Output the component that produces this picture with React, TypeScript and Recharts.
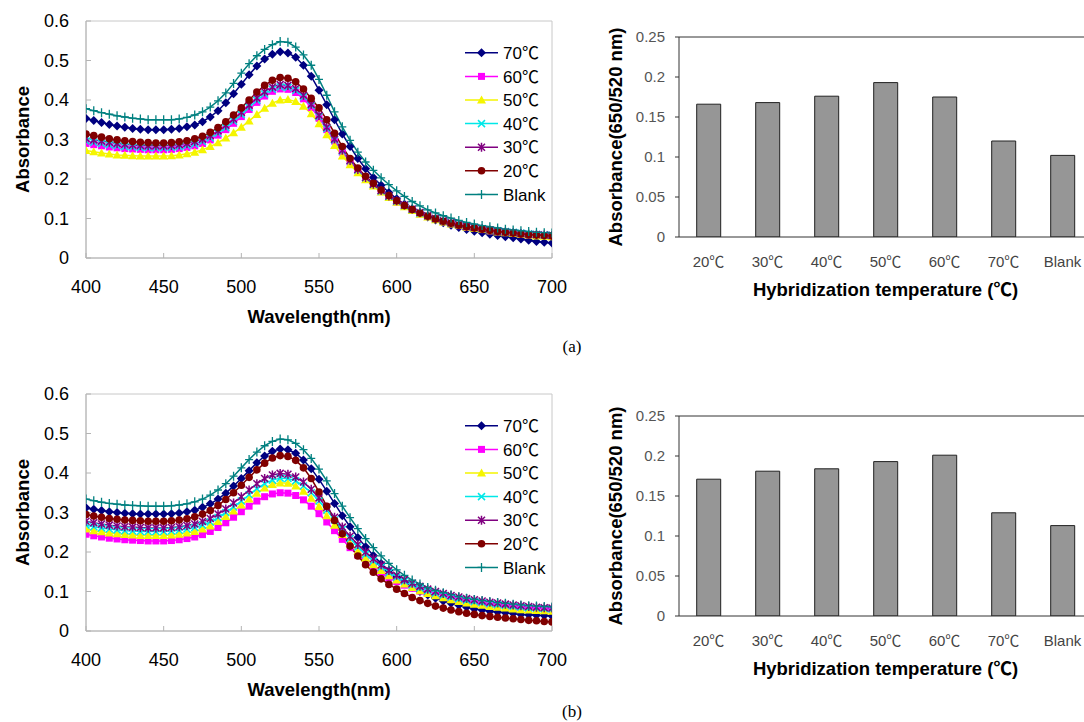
import React from 'react';
import { LineChart, Line, BarChart, Bar, XAxis, YAxis, Legend, ReferenceArea, ReferenceLine } from 'recharts';

// wavelength grid of the spectra (nm)
const wavelengths = [
  400, 405, 410, 415, 420, 425, 430, 435, 440, 445,
  450, 455, 460, 465, 470, 475, 480, 485, 490, 495,
  500, 505, 510, 515, 520, 525, 530, 535, 540, 545,
  550, 555, 560, 565, 570, 575, 580, 585, 590, 595,
  600, 605, 610, 615, 620, 625, 630, 635, 640, 645,
  650, 655, 660, 665, 670, 675, 680, 685, 690, 695,
  700,
];

// (a) spectra
const a70 = [
  .353, .348, .343, .338, .334, .331, .328, .326, .325, .325,
  .325, .326, .328, .332, .337, .345, .357, .373, .393, .416,
  .440, .464, .486, .504, .516, .522, .519, .508, .488, .460,
  .425, .388, .350, .314, .282, .252, .226, .204, .184, .166,
  .150, .136, .124, .113, .104, .096, .089, .083, .077, .072,
  .068, .064, .060, .057, .054, .051, .048, .045, .042, .040,
  .038,
];
const a60 = [
  .290, .287, .284, .281, .279, .277, .276, .275, .274, .274,
  .274, .275, .277, .280, .284, .290, .299, .311, .325, .341,
  .358, .376, .394, .410, .422, .428, .427, .419, .403, .381,
  .354, .325, .296, .268, .243, .221, .201, .184, .168, .154,
  .142, .131, .121, .112, .105, .098, .092, .087, .082, .078,
  .075, .072, .069, .067, .065, .063, .061, .059, .058, .057,
  .056,
];
const a50 = [
  .272, .269, .266, .263, .261, .260, .259, .258, .258, .258,
  .258, .259, .261, .264, .268, .274, .282, .292, .304, .317,
  .331, .347, .363, .379, .392, .400, .401, .396, .384, .365,
  .340, .312, .285, .258, .236, .216, .198, .182, .167, .153,
  .141, .130, .120, .111, .104, .097, .091, .086, .082, .078,
  .075, .072, .069, .066, .064, .062, .060, .058, .056, .055,
  .054,
];
const a40 = [
  .296, .293, .290, .287, .284, .282, .281, .280, .279, .279,
  .279, .280, .282, .285, .289, .295, .304, .316, .330, .346,
  .363, .381, .399, .415, .427, .433, .432, .424, .408, .386,
  .358, .328, .299, .271, .246, .223, .203, .186, .170, .156,
  .144, .133, .123, .114, .107, .100, .094, .089, .084, .080,
  .077, .074, .071, .069, .067, .065, .063, .061, .060, .059,
  .058,
];
const a30 = [
  .303, .299, .296, .293, .290, .288, .286, .285, .284, .284,
  .284, .285, .287, .290, .295, .301, .310, .322, .336, .352,
  .369, .387, .405, .421, .433, .439, .437, .429, .412, .389,
  .361, .331, .301, .273, .247, .224, .204, .187, .171, .157,
  .145, .134, .124, .115, .107, .100, .094, .089, .084, .080,
  .077, .074, .071, .068, .066, .064, .062, .060, .059, .058,
  .057,
];
const a20 = [
  .314, .310, .306, .302, .299, .297, .295, .293, .292, .291,
  .291, .292, .294, .297, .302, .308, .318, .330, .345, .362,
  .380, .400, .420, .437, .450, .457, .455, .446, .428, .404,
  .380, .350, .316, .282, .252, .228, .207, .189, .172, .158,
  .145, .133, .123, .114, .106, .099, .093, .088, .083, .079,
  .076, .073, .070, .067, .065, .063, .061, .059, .058, .057,
  .056,
];
const aBlank = [
  .378, .373, .368, .364, .360, .357, .354, .352, .350, .350,
  .350, .350, .352, .356, .362, .370, .382, .398, .418, .442,
  .468, .492, .512, .528, .540, .548, .546, .534, .514, .488,
  .452, .412, .370, .332, .298, .268, .243, .222, .203, .186,
  .170, .156, .143, .132, .122, .114, .107, .101, .095, .090,
  .086, .082, .079, .076, .073, .071, .069, .067, .065, .064,
  .063,
];

// (b) spectra
const b70 = [
  .312, .308, .305, .302, .300, .298, .297, .296, .296, .296,
  .296, .297, .299, .302, .306, .313, .322, .334, .349, .367,
  .386, .406, .426, .443, .455, .461, .459, .450, .433, .411,
  .384, .354, .323, .292, .264, .237, .213, .191, .171, .153,
  .137, .123, .111, .100, .091, .083, .076, .070, .065, .060,
  .056, .053, .050, .048, .046, .044, .042, .041, .040, .039,
  .038,
];
const b60 = [
  .245, .241, .238, .235, .233, .231, .230, .229, .228, .228,
  .228, .229, .231, .234, .238, .244, .252, .262, .274, .288,
  .302, .316, .329, .340, .347, .350, .349, .343, .332, .316,
  .297, .276, .254, .232, .211, .192, .175, .160, .147, .135,
  .125, .116, .108, .101, .095, .090, .085, .081, .077, .074,
  .071, .068, .066, .064, .062, .060, .059, .058, .057, .056,
  .055,
];
const b50 = [
  .258, .254, .251, .248, .246, .244, .243, .242, .242, .242,
  .242, .243, .245, .248, .252, .258, .266, .277, .290, .304,
  .319, .334, .349, .362, .371, .375, .374, .367, .354, .336,
  .315, .292, .268, .244, .222, .202, .184, .168, .153, .140,
  .129, .119, .110, .102, .095, .089, .084, .079, .075, .071,
  .068, .065, .062, .060, .058, .056, .054, .053, .052, .051,
  .050,
];
const b40 = [
  .268, .264, .261, .258, .256, .254, .253, .252, .252, .252,
  .252, .253, .255, .258, .262, .268, .276, .287, .300, .314,
  .329, .345, .360, .373, .382, .387, .386, .380, .367, .350,
  .329, .306, .281, .257, .234, .213, .194, .177, .162, .148,
  .136, .126, .117, .109, .102, .096, .091, .086, .082, .078,
  .075, .072, .069, .067, .065, .063, .061, .059, .058, .057,
  .056,
];
const b30 = [
  .278, .274, .271, .268, .266, .264, .263, .262, .261, .261,
  .261, .262, .264, .267, .271, .277, .285, .296, .309, .324,
  .340, .357, .373, .386, .395, .399, .397, .390, .377, .359,
  .337, .313, .288, .263, .240, .219, .200, .183, .167, .153,
  .141, .130, .121, .113, .106, .100, .095, .090, .086, .082,
  .079, .076, .073, .071, .068, .066, .064, .062, .060, .059,
  .058,
];
const b20 = [
  .295, .291, .288, .285, .283, .281, .280, .279, .278, .278,
  .278, .279, .281, .284, .289, .296, .305, .318, .333, .350,
  .369, .389, .408, .425, .438, .444, .442, .432, .413, .386,
  .352, .316, .280, .246, .215, .190, .168, .149, .132, .118,
  .106, .095, .085, .077, .070, .063, .058, .053, .049, .045,
  .042, .039, .037, .035, .033, .031, .029, .027, .026, .024,
  .023,
];
const bBlank = [
  .334, .330, .326, .323, .321, .319, .318, .317, .316, .316,
  .316, .317, .319, .322, .327, .334, .344, .357, .373, .392,
  .413, .434, .453, .469, .480, .486, .484, .475, .459, .437,
  .410, .380, .348, .316, .287, .259, .234, .211, .190, .171,
  .155, .141, .129, .119, .110, .103, .097, .092, .087, .083,
  .080, .077, .075, .072, .070, .068, .066, .064, .063, .062,
  .061,
];

// bar panels: A650/A520 ratio per hybridization temperature
const tempLabels = ['20℃', '30℃', '40℃', '50℃', '60℃', '70℃', 'Blank'];
const ratioA = [0.166, 0.168, 0.176, 0.193, 0.175, 0.120, 0.102];
const ratioB = [0.171, 0.181, 0.184, 0.193, 0.201, 0.129, 0.113];

const seriesKeys = ['t70', 't60', 't50', 't40', 't30', 't20', 'blank'];
const seriesNames = ['70℃', '60℃', '50℃', '40℃', '30℃', '20℃', 'Blank'];
const seriesColors = ['#000080', '#ff00ff', '#f5f500', '#00e8e8', '#800080', '#800000', '#008080'];
const seriesShapes = ['diamond', 'square', 'triangle', 'cross', 'star', 'circle', 'plus'];

const xTicks = [400, 450, 500, 550, 600, 650, 700];
const yTicks = [0, 0.1, 0.2, 0.3, 0.4, 0.5, 0.6];
const barTicks = [0, 0.05, 0.1, 0.15, 0.2, 0.25];

const FONT = "'Liberation Sans', Arial, 'Noto Sans CJK SC', sans-serif";

function buildRows(series: number[][]) {
  return wavelengths.map((wl, i) => {
    const row: any = { wl };
    seriesKeys.forEach((k, s) => { row[k] = series[s][i]; });
    return row;
  });
}

function buildBars(values: number[]) {
  return tempLabels.map((label, i) => ({ label, ratio: values[i] }));
}

const rowsA = buildRows([a70, a60, a50, a40, a30, a20, aBlank]);
const rowsB = buildRows([b70, b60, b50, b40, b30, b20, bBlank]);
const barsA = buildBars(ratioA);
const barsB = buildBars(ratioB);

function Marker({ shape, cx, cy, color }: any) {
  if (cx == null || cy == null) return null;
  switch (shape) {
    case 'diamond':
      return <polygon points={`${cx},${cy - 4.5} ${cx + 4.5},${cy} ${cx},${cy + 4.5} ${cx - 4.5},${cy}`} fill={color} />;
    case 'square':
      return <rect x={cx - 3.5} y={cy - 3.5} width={7} height={7} fill={color} />;
    case 'triangle':
      return <polygon points={`${cx},${cy - 4.5} ${cx + 4.5},${cy + 3.5} ${cx - 4.5},${cy + 3.5}`} fill={color} />;
    case 'cross':
      return <path d={`M${cx - 3.5},${cy - 3.5}L${cx + 3.5},${cy + 3.5}M${cx + 3.5},${cy - 3.5}L${cx - 3.5},${cy + 3.5}`} stroke={color} strokeWidth={1.5} />;
    case 'star':
      return <path d={`M${cx - 3.5},${cy - 3.5}L${cx + 3.5},${cy + 3.5}M${cx + 3.5},${cy - 3.5}L${cx - 3.5},${cy + 3.5}M${cx},${cy - 4.5}L${cx},${cy + 4.5}`} stroke={color} strokeWidth={1.5} />;
    case 'circle':
      return <circle cx={cx} cy={cy} r={3.8} fill={color} />;
    default:
      return <path d={`M${cx},${cy - 4.5}L${cx},${cy + 4.5}M${cx - 4},${cy}L${cx + 4},${cy}`} stroke={color} strokeWidth={1.3} />;
  }
}

function SpectraLegend() {
  const rowH = 23.6;
  return (
    <svg width={110} height={rowH * seriesNames.length} style={{ display: 'block' }}>
      {seriesNames.map((name, i) => {
        const cy = rowH / 2 + i * rowH;
        return (
          <g key={name}>
            <line x1={3} x2={36} y1={cy} y2={cy} stroke={seriesColors[i]} strokeWidth={1.5} />
            <Marker shape={seriesShapes[i]} cx={19.5} cy={cy} color={seriesColors[i]} />
            <text x={41} y={cy} dy="0.36em" fontSize={17} fill="#000" fontFamily={FONT}>{name}</text>
          </g>
        );
      })}
    </svg>
  );
}

function SpectraPanel({ rows, top }: { rows: any[]; top: number }) {
  return (
    <div style={{ position: 'absolute', left: 0, top, width: 580, height: 330 }}>
      <LineChart width={580} height={330} data={rows} margin={{ top: 21, right: 28, bottom: 2, left: 0 }}>
        <ReferenceArea x1={400} x2={700} y1={0} y2={0.6} fill="#fff" fillOpacity={0} stroke="#c8c8c8" />
        <XAxis
          dataKey="wl"
          type="number"
          domain={[400, 700]}
          ticks={xTicks}
          allowDataOverflow
          height={70}
          tickSize={-5}
          tickMargin={27}
          stroke="#b4b4b4"
          tick={{ fill: '#000', fontSize: 18 }}
          label={{ value: 'Wavelength(nm)', position: 'insideBottom', offset: 5, fontSize: 18.5, fontWeight: 'bold', fill: '#000' }}
        />
        <YAxis
          type="number"
          domain={[0, 0.6]}
          ticks={yTicks}
          allowDataOverflow
          width={86}
          tickSize={-5}
          tickMargin={22}
          stroke="#b4b4b4"
          tick={{ fill: '#000', fontSize: 18 }}
          label={{ value: 'Absorbance', angle: -90, position: 'insideLeft', offset: 22, textAnchor: 'middle', fontSize: 18.5, fontWeight: 'bold', fill: '#000' }}
        />
        {seriesKeys.map((key, i) => (
          <Line
            key={key}
            dataKey={key}
            name={seriesNames[i]}
            type="linear"
            stroke={seriesColors[i]}
            strokeWidth={1.5}
            isAnimationActive={false}
            activeDot={false}
            dot={(p: any) => <Marker key={`${key}-${p.index}`} shape={seriesShapes[i]} cx={p.cx} cy={p.cy} color={seriesColors[i]} />}
          />
        ))}
        <Legend
          layout="vertical"
          align="center"
          verticalAlign="middle"
          wrapperStyle={{ top: 41, left: 462, width: 110 }}
          content={() => <SpectraLegend />}
        />
      </LineChart>
    </div>
  );
}

function RatioPanel({ data, top }: { data: any[]; top: number }) {
  return (
    <div style={{ position: 'absolute', left: 580, top, width: 520, height: 330 }}>
      <BarChart width={520} height={330} data={data} margin={{ top: 37, right: 8, bottom: 29, left: 0 }} barCategoryGap="30%">
        {/* boundary tick marks between categories */}
        <XAxis
          xAxisId="edges"
          type="number"
          domain={[0, 7]}
          ticks={[1, 2, 3, 4, 5, 6]}
          allowDataOverflow
          height={0}
          axisLine={false}
          tick={false}
          tickSize={-5}
          stroke="#333"
        />
        <XAxis
          dataKey="label"
          height={64}
          tickLine={false}
          tickMargin={13}
          stroke="#333"
          tick={{ fill: '#444', fontSize: 15 }}
          label={{ value: 'Hybridization temperature (℃)', position: 'insideBottom', offset: 5, fontSize: 18.5, fontWeight: 'bold', fill: '#000' }}
        />
        <YAxis
          type="number"
          domain={[0, 0.25]}
          ticks={barTicks}
          allowDataOverflow
          width={99}
          tickSize={4}
          tickMargin={10}
          stroke="#333"
          tick={{ fill: '#555', fontSize: 15 }}
          label={{ value: 'Absorbance(650/520 nm)', angle: -90, position: 'insideLeft', offset: 35, textAnchor: 'middle', fontSize: 18.5, fontWeight: 'bold', fill: '#000' }}
        />
        <ReferenceLine y={0.25} stroke="#333" />
        <Bar dataKey="ratio" fill="#969696" stroke="#222" strokeWidth={1} isAnimationActive={false} />
      </BarChart>
    </div>
  );
}

export default function App() {
  return (
    <div style={{ position: 'absolute', left: 0, top: 0, width: 1084, height: 722, overflow: 'hidden', background: '#fff', fontFamily: FONT }}>
      <SpectraPanel rows={rowsA} top={0} />
      <RatioPanel data={barsA} top={0} />
      <SpectraPanel rows={rowsB} top={373} />
      <RatioPanel data={barsB} top={379} />
      <div style={{ position: 'absolute', left: 552, top: 337, width: 40, lineHeight: '20px', textAlign: 'center', fontFamily: "'Liberation Serif', 'Times New Roman', serif", fontSize: 17 }}>(a)</div>
      <div style={{ position: 'absolute', left: 552, top: 702, width: 40, lineHeight: '20px', textAlign: 'center', fontFamily: "'Liberation Serif', 'Times New Roman', serif", fontSize: 17 }}>(b)</div>
    </div>
  );
}
